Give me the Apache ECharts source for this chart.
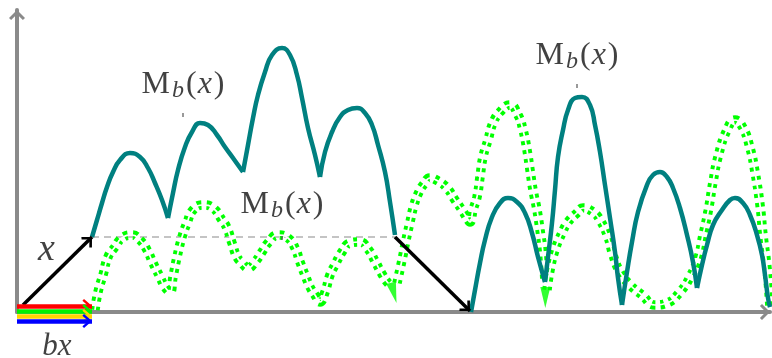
<!DOCTYPE html>
<html><head><meta charset="utf-8">
<script src="https://cdn.jsdelivr.net/npm/echarts@6/dist/echarts.min.js"></script>
<style>html,body{margin:0;padding:0;background:#fff}#c{width:772px;height:358px}</style>
</head><body><div id="c"></div>
<script>
// ---- data (x measured from the vertical axis, y upward from the horizontal axis) ----
const tealArch1 = [[75,75],[80,92],[85,109],[90,125],[96,140],[103,152],[113,159],[123,155],[131,144],[138,129],[145,112],[151,94]];
const tealArch2 = [[151,94],[156,119],[161,142],[168,165],[175,180],[183,189],[191,187],[200,177],[208,165],[216,154],[226,140]];
const tealArch3 = [[226,140],[231,167],[236,194],[241,217],[248,240],[255,257],[265,264],[273,257],[280,237],[285,214],[291,184],[298,157],[303,135]];
const tealArch4 = [[303,135],[308,160],[315,180],[323,195],[331,202],[340,204],[348,199],[355,187],[361,167],[368,140],[373,110],[378,77]];
const tealArch5 = [[454,0],[458,22],[463,49],[468,72],[475,95],[483,109],[491,114],[500,110],[508,99],[515,79],[521,55],[528,30]];
const tealArch6 = [[528,30],[531,55],[535,89],[538,122],[541,155],[546,182],[551,202],[558,214],[565,215],[573,207],[578,187],[583,160],[588,127],[593,94],[598,60],[601,34],[605,7]];
const tealArch7 = [[605,7],[610,40],[615,70],[621,100],[630,127],[636,137],[643,140],[650,135],[656,124],[663,104],[670,77],[676,50],[680,24]];
const tealArch8 = [[680,24],[685,47],[690,67],[696,87],[705,102],[713,112],[718,114],[726,109],[733,97],[740,77],[745,57],[748,37],[751,14],[753,5]];

const greenPieceA = [[78,2],[81,20],[86,37],[91,55],[98,65],[105,74],[115,77],[123,72],[130,62],[136,49],[143,35],[148,25],[153,20],[156,35],[160,55],[165,75],[170,89],[176,102],[186,107],[196,104],[205,92],[210,84],[215,69],[220,55],[225,49],[231,44],[238,50],[245,60],[251,69],[261,77],[271,74],[278,64],[283,50],[288,37],[293,25],[298,17],[303,10],[308,20],[313,37],[318,47],[325,60],[333,69],[343,70],[351,63],[358,51],[365,38],[371,29],[375,26]];
const greenPieceB = [[380,29],[385,52],[389,72],[393,90],[397,107],[402,120],[407,128],[413,134],[421,131],[430,124],[438,112],[445,102],[450,94],[453,90],[456,102],[460,115],[463,135],[466,155],[471,172],[476,189],[483,200],[493,207],[501,197],[506,182],[510,162],[513,142],[516,122],[520,102],[523,82],[526,59],[528,29]];
const greenPieceC = [[530,22],[533,42],[538,62],[545,79],[551,90],[560,99],[566,104],[576,100],[583,92],[591,75],[596,57],[603,40],[613,27],[625,17],[638,7],[650,9],[663,20],[673,35],[681,54],[686,77],[691,100],[696,130],[701,155],[710,182],[718,192],[726,184],[733,164],[738,140],[743,107],[746,77],[750,44],[753,4]];
const greenArrowTips = [[379.5,9],[528.3,4]];

const dashedLevel = [[75,75],[378,75]];
const blackArrows = [[[6,7],[75,75]], [[378,75],[453,1]]];
const bxArrowLevels = [6, 1, -4, -9];
const bxArrowSpan = [0, 75];

const labelPins = [[166,197],[265,74],[560,226]];
const xLabelPos = [29.5, 62];
const bxLabelPos = [40, -34.5];

// ---- styles ----
const tealArches = [tealArch1,tealArch2,tealArch3,tealArch4,tealArch5,tealArch6,tealArch7,tealArch8];
const greenPieces = [greenPieceA, greenPieceB, greenPieceC];
const greenArrowRot = [15, 0];
const bxColors = ['#ff0000', '#00f000', '#ffd400', '#0000ff'];
const labelDist = [10, 13, 10];
const AXIS_ARROW = 'path://M8,0 L16,8 L13.9,10.1 L8,4.2 L2.1,10.1 L0,8 Z M8,-10.1';
const BLACK_HEAD = 'path://M7.5,0 L15,7.5 L13,9.2 L7.5,3.7 L2,9.2 L0,7.5 Z M7.5,-9.2 M-1.7,0 M16.7,0';
const COLOR_HEAD = 'path://M7,0 L14,8 L12.2,9.6 L7,3.6 L1.8,9.6 L0,8 Z M7,-9.6 M-2.6,0 M16.6,0';
const GREEN_HEAD = 'path://M0,0 L10,0 L5,21 Z M5,42';
const SERIF = '"Liberation Serif", "DejaVu Serif", serif';

const axisCommon = {
  type: 'value', axisTick: {show: false}, axisLabel: {show: false}, splitLine: {show: false},
  axisLine: {show: true, symbol: ['none', AXIS_ARROW], symbolSize: [16, 20.2],
    lineStyle: {color: '#8a8a8a', width: 4}}
};

const series = [];
series.push({type: 'line', data: dashedLevel, symbol: 'none', clip: false, z: 1,
  lineStyle: {color: '#c4c4c4', width: 2, type: [7, 5]}});
greenPieces.forEach(p => series.push({type: 'line', data: p, smooth: 0.5, symbol: 'none', clip: false, z: 2,
  lineStyle: {color: '#00ff00', width: 9.5, type: [4, 5], cap: 'butt'}}));
greenPieces.forEach(p => series.push({type: 'line', data: p, smooth: 0.5, symbol: 'none', clip: false, z: 3,
  lineStyle: {color: '#ffffff', width: 1.7}}));
series.push({type: 'scatter', clip: false, z: 4, symbol: GREEN_HEAD, symbolSize: [10, 42],
  itemStyle: {color: '#00ff00'},
  data: greenArrowTips.map((t, i) => ({value: t, symbolRotate: greenArrowRot[i]}))});
tealArches.forEach(a => series.push({type: 'line', data: a, smooth: 0.5, symbol: 'none', clip: false, z: 5,
  lineStyle: {color: '#008080', width: 4.5, cap: 'butt'}}));
series.push({type: 'lines', coordinateSystem: 'cartesian2d', clip: false, z: 6, symbol: ['none', BLACK_HEAD], symbolSize: 18.4,
  lineStyle: {color: '#000', width: 3.5, opacity: 1, curveness: 0},
  data: blackArrows.map(c => ({coords: c}))});
series.push({type: 'lines', coordinateSystem: 'cartesian2d', clip: false, z: 7, symbol: ['none', COLOR_HEAD], symbolSize: 19.2,
  lineStyle: {width: 4.5, opacity: 1, curveness: 0},
  data: bxArrowLevels.map((y, i) => ({coords: [[bxArrowSpan[0], y], [bxArrowSpan[1], y]], lineStyle: {color: bxColors[i], width: 4.5, opacity: 1}}))});

const mbRich = {
  m: {fontFamily: SERIF, fontSize: 32, lineHeight: 36, color: '#111'},
  mp: {fontFamily: SERIF, fontSize: 32, lineHeight: 36, color: '#111', padding: [0, 2, 0, 0]},
  b: {fontFamily: SERIF, fontStyle: 'italic', fontSize: 24, lineHeight: 16, verticalAlign: 'bottom', color: '#111', padding: [0, 2, 0, 0]},
  i: {fontFamily: SERIF, fontStyle: 'italic', fontSize: 32, lineHeight: 36, color: '#111', padding: [0, 2, 0, 1]}
};
series.push({type: 'scatter', clip: false, z: 8, symbol: 'rect', symbolSize: [1.5, 4],
  itemStyle: {color: '#555'},
  label: {show: true, position: 'top', formatter: '{mp|M}{b|b}{m|(}{i|x}{m|)}', rich: mbRich},
  data: labelPins.map((p, i) => ({value: p, label: {distance: labelDist[i]}}))});
series.push({type: 'scatter', clip: false, z: 8, symbol: 'circle', symbolSize: 1,
  itemStyle: {color: 'rgba(0,0,0,0)'},
  label: {show: true, position: 'inside', formatter: '{i|x}',
    rich: {i: {fontFamily: SERIF, fontStyle: 'italic', fontSize: 38, lineHeight: 40, color: '#111'}}},
  data: [xLabelPos]});
series.push({type: 'scatter', clip: false, z: 8, symbol: 'circle', symbolSize: 1,
  itemStyle: {color: 'rgba(0,0,0,0)'},
  label: {show: true, position: 'inside', formatter: '{i|bx}',
    rich: {i: {fontFamily: SERIF, fontStyle: 'italic', fontSize: 31, lineHeight: 34, color: '#111'}}},
  data: [bxLabelPos]});

const chart = echarts.init(document.getElementById('c'));
chart.setOption({
  animation: false,
  backgroundColor: '#fff',
  grid: {left: 17, right: 2, top: 10, bottom: 46},
  xAxis: Object.assign({}, axisCommon, {min: 0, max: 753}),
  yAxis: Object.assign({}, axisCommon, {min: 0, max: 302}),
  series: series
});
</script></body></html>
